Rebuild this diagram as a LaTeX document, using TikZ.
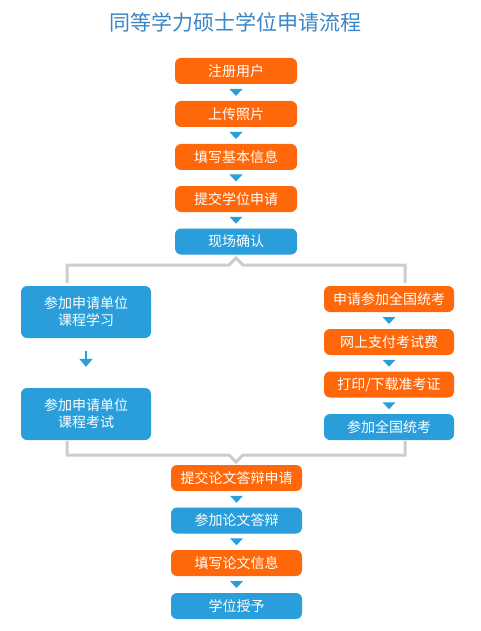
\documentclass[tikz,border=0pt]{standalone}
\usepackage{fontspec}
\newfontfamily\cjk{Noto Sans CJK SC}
\usetikzlibrary{calc,arrows.meta}
\definecolor{orng}{RGB}{255,104,10}
\definecolor{blu}{RGB}{41,158,219}
\definecolor{ttl}{RGB}{58,134,198}
\definecolor{brk}{RGB}{205,205,205}
\tikzset{
  box/.style={rounded corners=6pt, minimum height=26pt, inner sep=0pt, text=white, font=\cjk\fontsize{14}{17}\selectfont, align=center},
  ob/.style={box, fill=orng},
  bb/.style={box, fill=blu},
  midw/.style={minimum width=122pt},
  botw/.style={minimum width=131pt},
  sidew/.style={minimum width=130pt},
  tall/.style={minimum height=52pt},
  bracket/.style={draw=brk, line width=3pt},
}
\newcommand{\downtri}[2]{\fill[blu] ($(#1.south)!0.5!(#2.north)$) ++(-6.5,-3.5) -- ++(13,0) -- ++(-6.5,7) -- cycle;}
\begin{document}
\begin{tikzpicture}[x=1pt,y=-1pt]
\useasboundingbox (0,0) rectangle (480,631);
\fill[white] (0,0) rectangle (480,631);
\node[text=ttl, font=\cjk\fontsize{21}{24}\selectfont] (title) at (235,22) {同等学力硕士学位申请流程};

\node[ob,midw] (a1) at (236,71) {注册用户};
\node[ob,midw] (a2) at (236,114) {上传照片};
\node[ob,midw] (a3) at (236,157) {填写基本信息};
\node[ob,midw] (a4) at (236,199) {提交学位申请};
\node[bb,midw] (a5) at (236,241.5) {现场确认};
\downtri{a1}{a2}
\downtri{a2}{a3}
\downtri{a3}{a4}
\downtri{a4}{a5}

\node[bb,sidew,tall] (l1) at (86,312) {参加申请单位\\课程学习};
\node[bb,sidew,tall] (l2) at (86,414) {参加申请单位\\课程考试};
\draw[blu, line width=2.5pt, -{Triangle[width=13pt,length=8pt]}] ($(l1.south)+(0,13)$) -- ($(l2.north)+(0,-21)$);

\node[ob,sidew] (r1) at (389,299) {申请参加全国统考};
\node[ob,sidew] (r2) at (389,342) {网上支付考试费};
\node[ob,sidew] (r3) at (389,384.5) {打印/下载准考证};
\node[bb,sidew] (r4) at (389,427) {参加全国统考};
\downtri{r1}{r2}
\downtri{r2}{r3}
\downtri{r3}{r4}

\coordinate (tL) at (67,283);
\coordinate (tR) at (405,283);
\coordinate (tP) at (236,258);
\draw[bracket, line join=miter] (tL) -- (67,265) -- (229,265) -- (tP) -- (243,265) -- (405,265) -- (tR);

\node[ob,botw] (b1) at (236.5,478) {提交论文答辩申请};
\node[bb,botw] (b2) at (236.5,520.5) {参加论文答辩};
\node[ob,botw] (b3) at (236.5,563) {填写论文信息};
\node[bb,botw] (b4) at (236.5,606) {学位授予};
\downtri{b1}{b2}
\downtri{b2}{b3}
\downtri{b3}{b4}

\coordinate (bL) at (67,441);
\coordinate (bR) at (405,441);
\coordinate (bP) at (236,462);
\draw[bracket, line join=miter] (bL) -- (67,455) -- (229,455) -- (bP) -- (243,455) -- (405,455) -- (bR);
\end{tikzpicture}
\end{document}
